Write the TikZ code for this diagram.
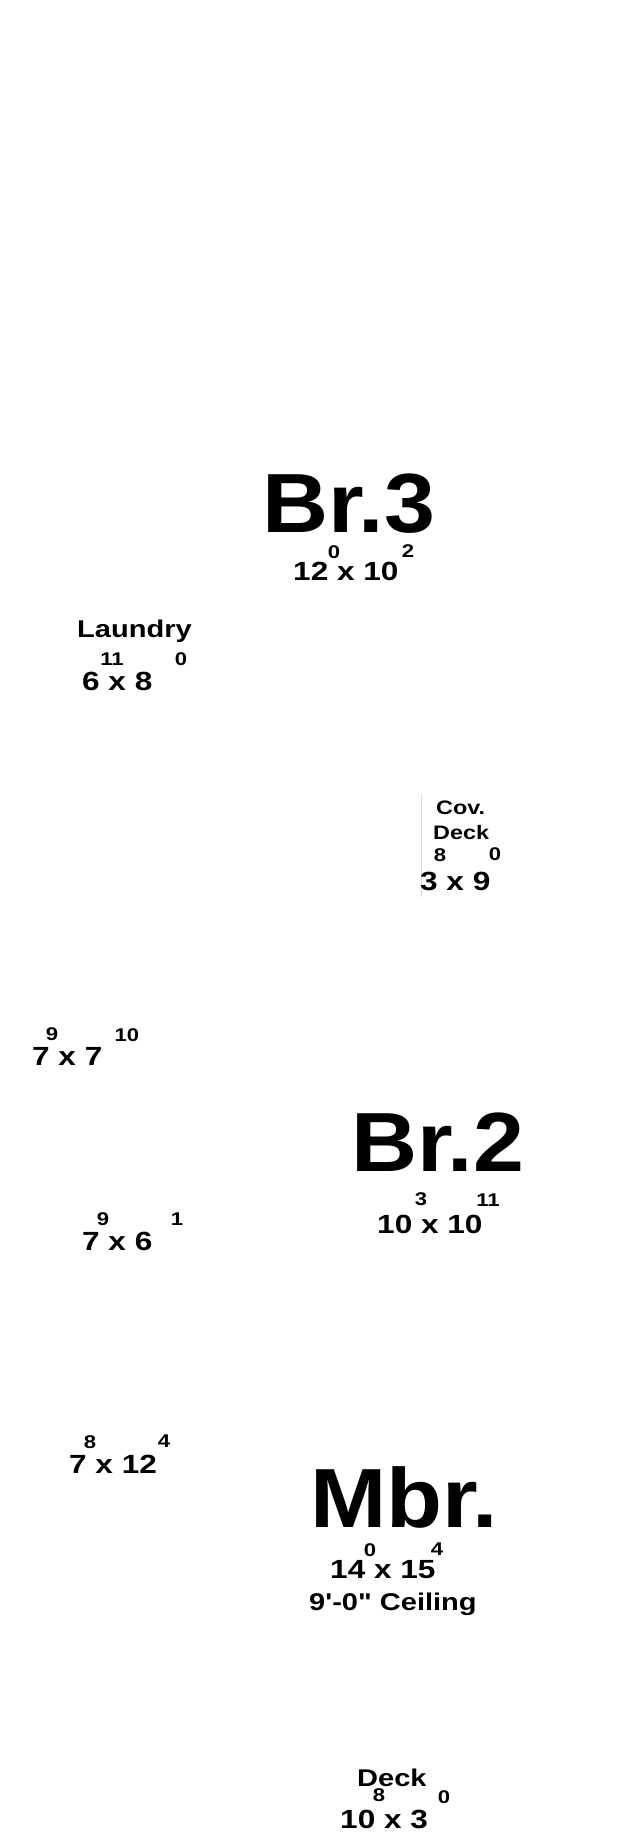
\documentclass[tikz,border=0pt]{standalone}
\usepackage{fontspec}
\usepackage{tikz}
\newfontfamily\titlefont{Liberation Sans}[FakeStretch=1.09]
\newfontfamily\planfont{Liberation Sans}[FakeStretch=1.2]

\begin{document}
\begin{tikzpicture}[x=1pt,y=-1pt,
  title/.style={inner sep=0pt,anchor=base west,font=\titlefont\bfseries\fontsize{84}{84}\selectfont},
  room/.style={inner sep=0pt,anchor=base west,font=\planfont\bfseries\fontsize{24.2}{24.2}\selectfont},
  small/.style={inner sep=0pt,anchor=base west,font=\planfont\bfseries\fontsize{19.5}{19.5}\selectfont},
  dim/.style={inner sep=0pt,anchor=base west,font=\planfont\bfseries\fontsize{26.3}{26.3}\selectfont},
  sup/.style={inner sep=0pt,anchor=base,font=\planfont\bfseries\fontsize{18.4}{18.4}\selectfont}]
  \useasboundingbox (0,0) rectangle (637,1846);
  % Br.3
  \node [title] (br3) at (262,532) {Br.3};
  \node [dim] (br3d) at (293,580) {12 x 10};
  \node [sup] (br3a) at (334,558) {0};
  \node [sup] (br3b) at (408,557) {2};
  % laundry
  \node [room] (laun) at (77,637) {Laundry};
  \node [dim] (laund) at (82,690) {6 x 8};
  \node [sup] (launa) at (112,665) {11};
  \node [sup] (launb) at (181,665) {0};
  % covered deck
  \draw [gray!30,line width=0.8pt] (421.5,794) -- (421.5,897);
  \node [small] (cov) at (436,814) {Cov.};
  \node [small] (covdeck) at (433,839) {Deck};
  \node [sup] (cova) at (440,861) {8};
  \node [sup] (covb) at (495,860) {0};
  \node [dim] (covd) at (420,890) {3 x 9};
  % hall
  \node [dim] (halld) at (32,1065) {7 x 7};
  \node [sup] (halla) at (52,1040) {9};
  \node [sup] (hallb) at (127,1041) {10};
  % Br.2
  \node [title] (br2) at (351,1171) {Br.2};
  \node [dim] (br2d) at (377,1233) {10 x 10};
  \node [sup] (br2a) at (421,1205) {3};
  \node [sup] (br2b) at (488,1206) {11};
  % bath
  \node [dim] (bathd) at (82,1250) {7 x 6};
  \node [sup] (batha) at (103,1225) {9};
  \node [sup] (bathb) at (177,1225) {1};
  % closet
  \node [dim] (closd) at (69,1473) {7 x 12};
  \node [sup] (closa) at (90,1448) {8};
  \node [sup] (closb) at (164,1447) {4};
  % Mbr.
  \node [title] (mbr) at (310,1527) {Mbr.};
  \node [dim] (mbrd) at (330,1578) {14 x 15};
  \node [sup] (mbra) at (370,1556) {0};
  \node [sup] (mbrb) at (437,1555) {4};
  \node [room] (ceil) at (309,1610) {9'-0" Ceiling};
  % deck
  \node [room] (deck) at (357,1786) {Deck};
  \node [sup] (decka) at (379,1801) {8};
  \node [sup] (deckb) at (444,1803) {0};
  \node [dim] (deckd) at (340,1828) {10 x 3};
\end{tikzpicture}
\end{document}
